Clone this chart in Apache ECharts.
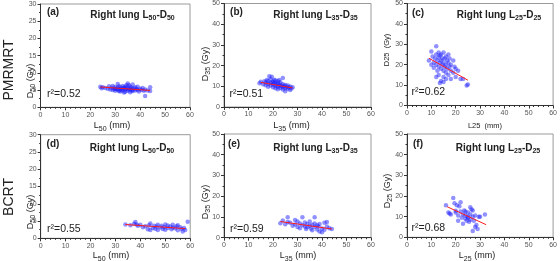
<!DOCTYPE html>
<html><head><meta charset="utf-8">
<script src="https://cdn.jsdelivr.net/npm/echarts@6/dist/echarts.min.js"></script>
<style>html,body{margin:0;padding:0;background:#fff}#c{width:560px;height:261px}</style>
</head><body><div id="c"></div>
<script>
// ---- data ----
const panelTags = ['(a)','(b)','(c)','(d)','(e)','(f)'];
const panelSubs = ['50','35','25','50','35','25'];
const rowLabels = ['PMRMRT','BCRT'];
const r2Values = ['0.52','0.51','0.62','0.55','0.59','0.68'];
const yMaxes = [30,50,50,30,50,50];
const yIntervals = [5,10,10,5,10,10];
const xTicks = [0,60,10];

const ptsA = [[24,6.0],[24.5,5.5],[25,5.8],[26,5.6],[27,5.4],[27.5,6.1],[28,5.2],[28.5,5.7],[29,5.0],[29,6.2],[29.5,5.4],[30,4.8],[30,5.9],[30.5,5.3],[31,6.8],[31,5.0],[31,5.6],[31.5,6.1],[32,4.6],[32,5.3],[32,5.8],[32.5,5.1],[33,4.9],[33,5.5],[33,6.2],[33.5,5.7],[34,4.5],[34,5.2],[34,6.0],[34.5,5.4],[35,4.8],[35,5.6],[35,6.9],[35.5,5.1],[35.5,6.4],[36,4.4],[36,5.3],[36,6.0],[36.5,5.7],[37,4.7],[37,5.2],[37,6.6],[37.5,5.5],[38,4.9],[38,5.8],[38.5,5.3],[39,5.0],[39,6.0],[39.5,4.6],[40,5.4],[40.5,5.0],[41,5.6],[41.5,4.8],[42,3.3],[42,5.2],[43,4.9],[44,5.8],[44,4.7],[31.5,4.7],[33.5,4.3],[36.5,4.9],[30,5.4],[34.5,6.4]];
const ptsB = [[14.5,11.5],[15,12.2],[16,11.0],[16.5,12.5],[17,10.5],[17,11.8],[17.5,13.0],[18,9.8],[18,11.2],[18,12.6],[18.5,14.8],[19,10.4],[19,11.6],[19,13.4],[19.5,12.0],[19.5,14.6],[20,9.5],[20,10.8],[20,12.3],[20.5,11.4],[20.5,13.2],[21,9.0],[21,10.2],[21,11.8],[21,12.8],[21.5,10.9],[22,8.6],[22,9.8],[22,11.3],[22,12.4],[22.5,10.4],[22.5,13.0],[23,9.2],[23,10.8],[23,11.9],[23.5,10.0],[24,8.4],[24,9.6],[24,11.0],[24,14.0],[24.5,10.2],[25,7.6],[25,9.0],[25,10.6],[25.5,9.8],[26,8.8],[26,10.4],[26.5,9.4],[27,9.9],[27.5,8.9],[28,9.5],[27,8.2]];
const ptsC = [[9,22],[10,26.5],[10,20],[10.5,24],[11,21],[11,18.5],[11.5,23],[12,29],[12,25],[12,20],[12.5,22],[12.5,17],[13,26],[13,23.5],[13,19],[13,15],[13.5,21],[13.5,24.5],[14,25],[14,22],[14,18],[14,12],[14.5,20],[14.5,23],[15,26],[15,21],[15,17],[15,14],[15.5,23],[15.5,19],[16,24],[16,20],[16,16],[16,13],[16.5,22],[16.5,18],[17,25],[17,21],[17,15],[17.5,19],[17.5,23],[18,20],[18,17],[18,13],[19,22],[19,16],[19.5,19],[20,14],[20,18],[21,17],[22,13],[23,13],[24.5,9.8],[25,10.3],[12,14],[13.5,11],[15,11.5]];
const ptsD = [[34,4.0],[36,3.8],[37.5,4.2],[38,4.7],[38.5,4.0],[39,3.6],[40,3.9],[41,3.2],[42,3.5],[43,2.6],[43.5,3.8],[44,2.4],[44,4.3],[45,3.0],[45.5,3.6],[46,2.8],[46.5,3.4],[47,3.9],[47,2.4],[48,3.1],[48.5,3.6],[49,2.7],[49.5,3.3],[50,4.0],[50,2.5],[51,3.0],[51,3.7],[52,3.4],[52.5,2.6],[53,3.9],[53,3.1],[54,2.9],[54.5,3.5],[55,2.3],[55,3.8],[56,3.2],[56.5,2.7],[57,2.0],[57.5,3.0],[58,2.4],[59,4.8]];
const ptsE = [[23,7.0],[24,8.3],[25,6.5],[26,9.8],[26,7.6],[27,7.2],[28,5.8],[29,8.5],[29,6.4],[30,7.8],[30,5.2],[31,6.8],[31,4.6],[32,9.8],[32,6.0],[33,7.3],[33,5.4],[33.5,4.2],[34,6.6],[34,5.0],[35,7.8],[35,5.8],[35.5,4.4],[36,6.2],[36,3.6],[37,9.8],[37,6.8],[37,5.2],[38,4.0],[38,6.0],[38.5,5.4],[39,3.0],[39,6.6],[40,4.4],[40,2.6],[41,7.2],[41,3.8],[42,7.6],[42,5.4],[43,4.6],[44,4.2]];
const ptsF = [[16,15.5],[17,12],[17.5,11.5],[18,11],[19,19],[19.5,16.5],[20,12],[20.5,15.5],[21,8],[21,10.5],[21.5,15],[22,17],[22,12.5],[22.5,9.5],[23,11],[23,6.5],[23.5,13],[24,9],[24,10.5],[24.5,8],[25,12],[25,9.5],[25.5,7.5],[26,14.5],[26,11],[26,8.5],[26.5,13.5],[27,10],[27,13],[27,3],[27.5,8],[28,10.5],[28,5],[28.5,6],[29,4],[29.5,10],[30,10],[32,11],[24,12.5],[25,10],[20,12.8]];

const fitA = [[24,5.9],[44,4.9]];
const fitB = [[15,11.9],[28,9.2]];
const fitC = [[9,23.2],[25,12.4]];
const fitD = [[34,4.0],[58,2.8]];
const fitE = [[23,7.8],[44,4.2]];
const fitF = [[16.5,14.8],[32.5,6.1]];

const allPts = [ptsA,ptsB,ptsC,ptsD,ptsE,ptsF];
const allFits = [fitA,fitB,fitC,fitD,fitE,fitF];

// ---- layout ----
const grids = [
  {left:40.5, top:4, width:149.5, height:103.3},
  {left:224, top:3.5, width:147, height:103.5},
  {left:407, top:3.5, width:147, height:102},
  {left:40.7, top:134.7, width:149.5, height:103.6},
  {left:224, top:134, width:147, height:103.7},
  {left:407, top:134, width:147, height:103.3}
];
const FONT = 'Liberation Sans, Arial, sans-serif';
const subRich = {
  s:{fontSize:7, fontFamily:FONT, padding:[6,0,0,0], color:'#222'},
  sb:{fontSize:7, fontFamily:FONT, fontWeight:'bold', padding:[6,0,0,0], color:'#222'}
};

const option = {
  animation:false,
  grid: grids.map(g => Object.assign({show:true, borderColor:'#9a9a9a', borderWidth:1, containLabel:false}, g)),
  xAxis: grids.map((g,i) => ({
    gridIndex:i, type:'value', min:xTicks[0], max:xTicks[1], interval:xTicks[2],
    axisLine:{show:true, onZero:false, lineStyle:{color:'#333', width:1}},
    axisTick:{show:true, length:3, lineStyle:{color:'#333'}},
    minorTick:{show:true, splitNumber:5, length:1.5, lineStyle:{color:'#333'}},
    axisLabel:{fontSize:7, color:'#555', margin:4, fontFamily:FONT},
    splitLine:{show:false}
  })),
  yAxis: grids.map((g,i) => ({
    gridIndex:i, type:'value', min:0, max:yMaxes[i], interval:yIntervals[i],
    axisLine:{show:true, onZero:false, lineStyle:{color:'#333', width:1}},
    axisTick:{show:true, length:3, lineStyle:{color:'#333'}},
    minorTick:{show:true, splitNumber:2, length:1.5, lineStyle:{color:'#333'}},
    axisLabel:{fontSize:7, color:'#555', margin:4, fontFamily:FONT},
    splitLine:{show:false}
  })),
  series: [],
  graphic: []
};

allPts.forEach((pts,i) => {
  option.series.push({
    type:'scatter', xAxisIndex:i, yAxisIndex:i, data:pts, symbolSize:4.5,
    itemStyle:{color:'rgba(25,25,255,0.6)'}, z:2
  });
});
allFits.forEach((f,i) => {
  option.series.push({
    type:'line', xAxisIndex:i, yAxisIndex:i, data:f, symbol:'none',
    lineStyle:{color:'#ff1a1a', width:1}, z:3
  });
});

const G = option.graphic;
// row labels
const rowPos = [[9,70],[9,197]];
rowLabels.forEach((t,i) => {
  G.push({type:'text', x:rowPos[i][0], y:rowPos[i][1], rotation:Math.PI/2,
    style:{text:t, x:0, y:0, align:'center', verticalAlign:'middle', fontSize:14, fontFamily:FONT, fill:'#222'}});
});
// tags and titles
const tagPos = [[53,12.5],[236.5,12.5],[418,13],[53,144],[234,144],[418,144]];
const titlePos = [[132.5,15],[315.5,15],[499,15],[132,148],[315.5,148],[498,148]];
const r2Pos = [[47,94.5],[229.5,94.5],[411.5,92.5],[47,229],[230,229],[411.5,228.5]];
const yLabPos = [[30.5,81],[205.5,64],[387,50],[30.5,212],[205.5,202],[387.5,191]];
const xLabPos = [[112,126],[291.5,126],[485,125.7],[111,255.7],[298,255.7],[477,255.7]];

for (let i=0;i<6;i++){
  const sub = panelSubs[i];
  G.push({type:'text', x:tagPos[i][0], y:tagPos[i][1],
    style:{text:panelTags[i], x:0, y:0, align:'center', verticalAlign:'middle', fontSize:10, fontWeight:'bold', fontFamily:FONT, fill:'#222'}});
  G.push({type:'text', x:titlePos[i][0], y:titlePos[i][1],
    style:{text:'Right lung L{sb|'+sub+'}-D{sb|'+sub+'}', x:0, y:0, align:'center', verticalAlign:'middle', fontSize:10, fontWeight:'bold', fontFamily:FONT, fill:'#222', rich:subRich}});
  G.push({type:'text', x:r2Pos[i][0], y:r2Pos[i][1],
    style:{text:'r\u00b2='+r2Values[i], x:0, y:0, align:'left', verticalAlign:'middle', fontSize:10.5, fontFamily:FONT, fill:'#222'}});
  const odd = (i===2);
  G.push({type:'text', x:yLabPos[i][0], y:yLabPos[i][1], rotation:Math.PI/2,
    style:{text: odd ? 'D25  (Gy)' : 'D{s|'+sub+'} (Gy)', x:0, y:0, align:'center', verticalAlign:'middle', fontSize: odd?7.5:9, fontFamily:FONT, fill:'#222', rich:subRich}});
  G.push({type:'text', x:xLabPos[i][0], y:xLabPos[i][1],
    style:{text: odd ? 'L25  (mm)' : 'L{s|'+sub+'} (mm)', x:0, y:0, align:'center', verticalAlign:'middle', fontSize: odd?7.5:9, fontFamily:FONT, fill:'#222', rich:subRich}});
}

const chart = echarts.init(document.getElementById('c'), null, {renderer:'canvas', width:560, height:261});
chart.setOption(option);
</script>
</body></html>
